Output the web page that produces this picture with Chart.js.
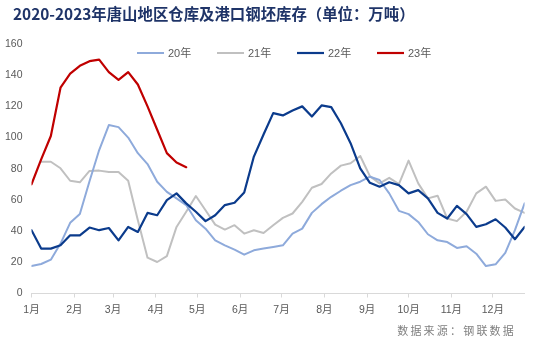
<!DOCTYPE html>
<html>
<head>
<meta charset="utf-8">
<script src="https://cdn.jsdelivr.net/npm/chart.js@4.4.0/dist/chart.umd.min.js"></script>
<style>
  html, body { margin: 0; padding: 0; background: #fff; }
  #wrap { position: relative; width: 537px; height: 342px; }
  canvas { position: absolute; left: 0; top: 0; }
  #title { position: absolute; left: 13px; top: 2px; font: bold 15.4px "Noto Sans CJK SC", sans-serif; color: #1f3468; white-space: nowrap; }
  #source { position: absolute; right: 21px; top: 322px; font: 11px "Noto Sans CJK SC", sans-serif; color: #7f7f7f; letter-spacing: 2.2px; white-space: nowrap; }
</style>
</head>
<body>
<div id="wrap">
  <canvas id="stockChart" width="537" height="342"></canvas>
  <div id="title">2020-2023年唐山地区仓库及港口钢坯库存（单位：万吨）</div>
  <div id="source">数据来源：钢联数据</div>
</div>
<script>
// weekly stock, 万吨 (week 0 = first week of January)
const weeks = Array.from({ length: 52 }, (_, i) => i);
const stock20 = [17.6, 18.9, 21.7, 32, 45.3, 51, 72, 92, 108, 106.7, 100, 90, 83, 71.7, 65.2, 61, 56.7, 47, 41.6, 34.1,
  30.9, 28.1, 24.9, 27.7, 28.8, 29.8, 30.9, 38.4, 41.6, 51.7, 57.3, 62, 65.9, 69.5, 71.7, 74.9, 72.8, 64.2, 53, 50.9,
  45.9, 38, 34.1, 33, 29.2, 30.3, 25.5, 17.6, 18.7, 26, 40.6, 57.8];
const stock21 = [null, 84.5, 84.5, 80.3, 72.3, 71.3, 78.6, 78.8, 77.9, 77.9, 72.3, 47, 23, 20.2, 24, 42.7, 52.4, 62.5, 53.4, 44.2,
  41, 43.8, 38.4, 40.6, 38.8, 43.8, 48.5, 51.3, 58.8, 67.8, 70.2, 77, 82, 83.5, 88.2, 75.3, 70.6, 74.2, 70.2, 85.2,
  70.6, 61, 62.7, 48.1, 46.4, 52.4, 64.2, 68.5, 59.4, 60.3, 54.5, 51.7];
const stock22 = [40.6, 28.8, 28.8, 30.9, 37.3, 37.3, 42.3, 40.6, 42, 34.1, 42.7, 39.5, 51.7, 50.2, 59.9, 64.2, 57.8, 52.4, 46.4, 50.2,
  56.7, 58.2, 64.8, 87.8, 102, 115.7, 114.2, 117.4, 120, 113.5, 120.6, 119.5, 109.2, 96.4, 80.3, 71, 68.5, 71.3, 69.5, 64.2,
  66.3, 61, 51.7, 48.1, 56.2, 50.9, 42.7, 44.4, 47.6, 42.3, 34.8, 42.7];
const stock23 = [70, 86, 101, 132, 141, 146, 149, 150, 142, 137, 142, 134, 120, 105, 90, 84, 81];

// month ticks sit on the week where each month begins
const monthStarts = [0, 4.43, 8.43, 12.86, 17.14, 21.57, 25.86, 30.29, 34.71, 39, 43.43, 47.71];
const monthLabels = ['1月', '2月', '3月', '4月', '5月', '6月', '7月', '8月', '9月', '10月', '11月', '12月'];

const toPoints = vals => vals.map((v, i) => ({ x: weeks[i], y: v }));

// legend drawn as a row inside the plot, under the top of the y axis
const inlineLegend = {
  id: 'inlineLegend',
  afterDatasetsDraw(chart) {
    const ctx = chart.ctx;
    ctx.save();
    ctx.font = '11px "Liberation Sans", "Noto Sans CJK SC", sans-serif';
    ctx.textBaseline = 'middle';
    chart.data.datasets.forEach((ds, i) => {
      const x = 137 + i * 80, y = 53;
      ctx.strokeStyle = ds.borderColor;
      ctx.lineWidth = ds.borderWidth;
      ctx.beginPath();
      ctx.moveTo(x, y);
      ctx.lineTo(x + 27, y);
      ctx.stroke();
      ctx.fillStyle = '#595959';
      ctx.fillText(ds.label, x + 31, y + 0.5);
    });
    ctx.restore();
  }
};

const tickFont = { family: '"Liberation Sans", "Noto Sans CJK SC", sans-serif', size: 10.5 };

new Chart(document.getElementById('stockChart'), {
  type: 'line',
  data: {
    datasets: [
      { label: '20年', data: toPoints(stock20), borderColor: '#8eaadb', borderWidth: 2, order: 3 },
      { label: '21年', data: toPoints(stock21), borderColor: '#c0c0c0', borderWidth: 2, order: 4 },
      { label: '22年', data: toPoints(stock22), borderColor: '#0b3b8c', borderWidth: 2.2, order: 2 },
      { label: '23年', data: toPoints(stock23), borderColor: '#c00000', borderWidth: 2.2, order: 1 }
    ]
  },
  options: {
    responsive: false,
    animation: false,
    spanGaps: false,
    elements: { point: { radius: 0 }, line: { tension: 0, borderCapStyle: 'round', borderJoinStyle: 'round' } },
    layout: { padding: { top: 44, right: 12.4, bottom: 0, left: 0 } },
    plugins: { legend: { display: false }, title: { display: false }, tooltip: { enabled: false } },
    scales: {
      x: {
        type: 'linear',
        min: 0,
        max: 51,
        afterBuildTicks: scale => { scale.ticks = monthStarts.map(v => ({ value: v })); },
        afterFit: scale => { scale.height = 48.5; },
        grid: { drawOnChartArea: false, drawTicks: true, tickLength: 4, color: '#d9d9d9' },
        border: { color: '#d9d9d9' },
        ticks: {
          autoSkip: false,
          maxRotation: 0,
          padding: 6,
          color: '#595959',
          font: tickFont,
          callback: (v, i) => monthLabels[i]
        }
      },
      y: {
        min: 0,
        max: 160,
        afterFit: scale => { scale.width = 31.5; },
        grid: { display: false, drawTicks: false },
        border: { display: false },
        ticks: { stepSize: 20, padding: 9, color: '#595959', font: tickFont }
      }
    }
  },
  plugins: [inlineLegend]
});
</script>
</body>
</html>
